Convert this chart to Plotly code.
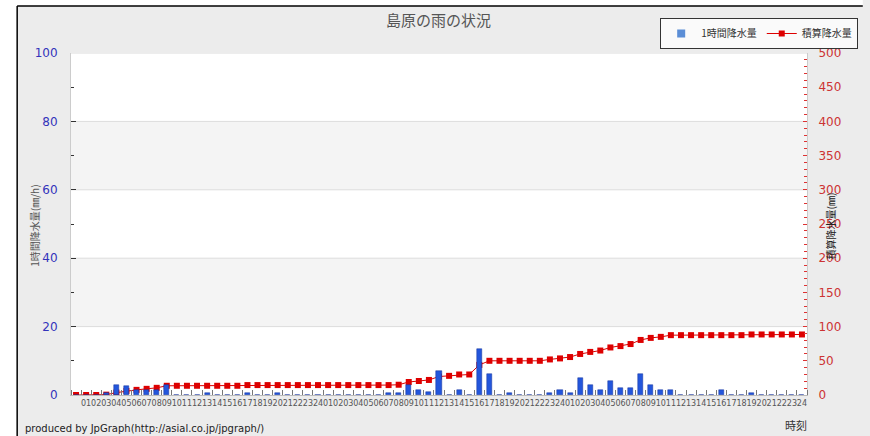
import plotly.graph_objects as go

hours = ["01", "02", "03", "04", "05", "06", "07", "08", "09", "10", "11", "12",
         "13", "14", "15", "16", "17", "18", "19", "20", "21", "22", "23", "24"]
labels = [""] + hours + hours + hours

rain_day0 = [0]
rain_day1 = [0, 0, 0.5, 3, 2.5, 1.5, 1.5, 1.5, 3, 0, 0, 0, 0.5, 0, 0, 0, 0.5, 0, 0, 0.5, 0, 0, 0, 0]
rain_day2 = [0, 0, 0, 0, 0, 0, 0.5, 0.5, 3, 1.5, 1, 7, 0, 1.5, 0, 13.5, 6, 0, 0.5, 0, 0, 0, 0.5, 1.5]
rain_day3 = [0.5, 5, 3, 1.5, 4, 2, 2, 6, 3, 1.5, 1.5, 0, 0, 0, 0, 1.5, 0, 0, 0.5, 0, 0, 0, 0, 0]
rain_1h = rain_day0 + rain_day1 + rain_day2 + rain_day3

cum_day0 = [0]
cum_day1 = [0, 0, 0.5, 3.5, 6, 7.5, 9, 10.5, 13.5, 13.5, 13.5, 13.5, 13.5, 13.5, 13.5, 13.5,
            14.5, 14.5, 14.5, 14.5, 14.5, 14.5, 14.5, 14.5]
cum_day2 = [14.5, 14.5, 14.5, 14.5, 14.5, 14.5, 14.5, 15, 19, 20.5, 22, 27, 28, 30, 30, 44,
            50, 50, 50, 50, 50, 50, 52, 53.5]
cum_day3 = [55.5, 60, 63, 65, 69.5, 71.5, 74.5, 80.5, 83.5, 85, 87.5, 87.5, 87.5, 87.5, 87.5,
            87.5, 87.5, 87.5, 88.5, 88.5, 88.5, 88.5, 88.5, 88.5]
rain_cum = cum_day0 + cum_day1 + cum_day2 + cum_day3

xs = list(range(len(labels)))

W, H = 870, 436
ML, MR, MT, MB = 71, 47, 53, 41
PW, PH = W - ML - MR, H - MT - MB


def px(x):
    return (x - ML) / PW


def py(y):
    return (H - MB - y) / PH


FONT = "DejaVu Sans, Noto Sans CJK JP"
CJK = "Noto Sans CJK JP, DejaVu Sans"
BAR_LEGEND_BLUE = "#5b8ed6"

fig = go.Figure()

fig.add_trace(go.Scatter(
    x=xs, y=rain_cum, name="積算降水量", yaxis="y",
    mode="lines+markers",
    line=dict(color="#dd0000", width=1),
    marker=dict(symbol="square", size=6, color="#dd0000"),
    legendrank=2,
))
fig.add_trace(go.Bar(
    x=xs, y=rain_1h, name="1時間降水量", yaxis="y2",
    width=0.5,
    marker=dict(color="#2356dc", line=dict(color="#14339a", width=0.5)),
    showlegend=False,
))
# legend-only entry for the bars (small square swatch, as in the original legend)
fig.add_trace(go.Scatter(
    x=[None], y=[None], name="1時間降水量", yaxis="y2",
    mode="markers", marker=dict(symbol="square", size=8, color=BAR_LEGEND_BLUE),
    legendrank=1,
))

shapes = []
for lo, hi in [(0, 100), (200, 300), (400, 500)]:
    shapes.append(dict(type="rect", xref="paper", yref="y", x0=0, x1=1, y0=lo, y1=hi,
                       fillcolor="white", line=dict(width=0), layer="below"))
for yv in [100, 200, 300, 400, 500]:
    shapes.append(dict(type="line", xref="paper", yref="y", x0=0, x1=1, y0=yv, y1=yv,
                       line=dict(color="#dcdcdc", width=1), layer="below"))
shapes.append(dict(type="rect", xref="paper", yref="paper", x0=px(-10), x1=px(16), y0=py(450), y1=py(-10),
                   fillcolor="white", line=dict(width=0), layer="above"))
shapes.append(dict(type="rect", xref="paper", yref="paper", x0=px(-10), x1=px(880), y0=py(6), y1=py(-10),
                   fillcolor="white", line=dict(width=0), layer="above"))
shapes.append(dict(type="line", xref="paper", yref="paper", x0=px(16), x1=px(16), y0=py(450), y1=py(6),
                   line=dict(color="black", width=1.5), layer="above"))
shapes.append(dict(type="line", xref="paper", yref="paper", x0=px(16), x1=px(880), y0=py(6), y1=py(6),
                   line=dict(color="black", width=1.5), layer="above"))

annotations = [
    dict(text="島原の雨の状況", xref="paper", yref="paper", x=px(446), y=py(20),
         xanchor="center", yanchor="middle",
         showarrow=False, font=dict(family=CJK, size=15, color="#555555")),
    dict(text="1時間降水量(㎜/h)", xref="paper", yref="paper", x=px(34), y=py(226),
         xanchor="center", yanchor="middle",
         showarrow=False, textangle=-90, font=dict(family=CJK, size=10, color="#555555")),
    dict(text="積算降水量(㎜)", xref="paper", yref="paper", x=px(848), y=py(226),
         xanchor="center", yanchor="middle",
         showarrow=False, textangle=-90, font=dict(family=CJK, size=10, color="#222222")),
    dict(text="時刻", xref="paper", yref="paper", x=px(812), y=py(425),
         xanchor="center", yanchor="middle",
         showarrow=False, font=dict(family=CJK, size=11, color="#333333")),
    dict(text="produced by JpGraph(http://asial.co.jp/jpgraph/)", xref="paper", yref="paper",
         x=px(22), y=py(428), xanchor="left", yanchor="middle", showarrow=False,
         font=dict(family=FONT, size=10, color="#222222")),
]

fig.update_layout(
    width=W, height=H,
    margin=dict(l=ML, r=MR, t=MT, b=MB, pad=0),
    paper_bgcolor="#ececec",
    plot_bgcolor="#f4f4f4",
    bargap=0,
    showlegend=True,
    legend=dict(orientation="h", x=px(673), y=py(18), xanchor="left", yanchor="top",
                bgcolor="#fafafa", bordercolor="#333333", borderwidth=1,
                font=dict(family=CJK, size=10, color="#333333"), itemwidth=30,
                traceorder="normal"),
    xaxis=dict(range=[-0.5, len(labels) - 0.5], tickmode="array", tickvals=xs, ticktext=labels,
               tickangle=0, ticks="", showgrid=False, zeroline=False,
               showline=True, linecolor="#bbbbbb", linewidth=1,
               tickfont=dict(family=FONT, size=8, color="#555555"),
               minor=dict(tickmode="linear", tick0=0.5, dtick=1, ticks="inside", ticklen=5,
                          tickcolor="#777777", showgrid=False)),
    yaxis=dict(side="right", range=[0, 500], tickmode="linear", tick0=0, dtick=50,
               ticks="inside", ticklen=4, tickcolor="#dd3333", showgrid=False, zeroline=False,
               showline=True, linecolor="#cccccc", ticklabelstandoff=8,
               tickfont=dict(family=FONT, size=12, color="#cc3333"),
               minor=dict(tickmode="linear", tick0=0, dtick=10, ticks="inside", ticklen=3,
                          tickcolor="#dd3333")),
    yaxis2=dict(side="left", overlaying="y", range=[0, 100], tickmode="linear", tick0=0, dtick=20,
                ticks="inside", ticklen=5, tickcolor="#333333", showgrid=False, zeroline=False,
                showline=True, linecolor="#cccccc", ticklabelstandoff=10,
                tickfont=dict(family=FONT, size=12, color="#3333bb"),
                minor=dict(tickmode="linear", tick0=0, dtick=10, ticks="inside", ticklen=3,
                           tickcolor="#333333")),
    shapes=shapes,
    annotations=annotations,
)

fig.write_html("out.html", config={"displayModeBar": False},
               post_script="document.body.style.margin='0';document.body.style.overflow='hidden';")
